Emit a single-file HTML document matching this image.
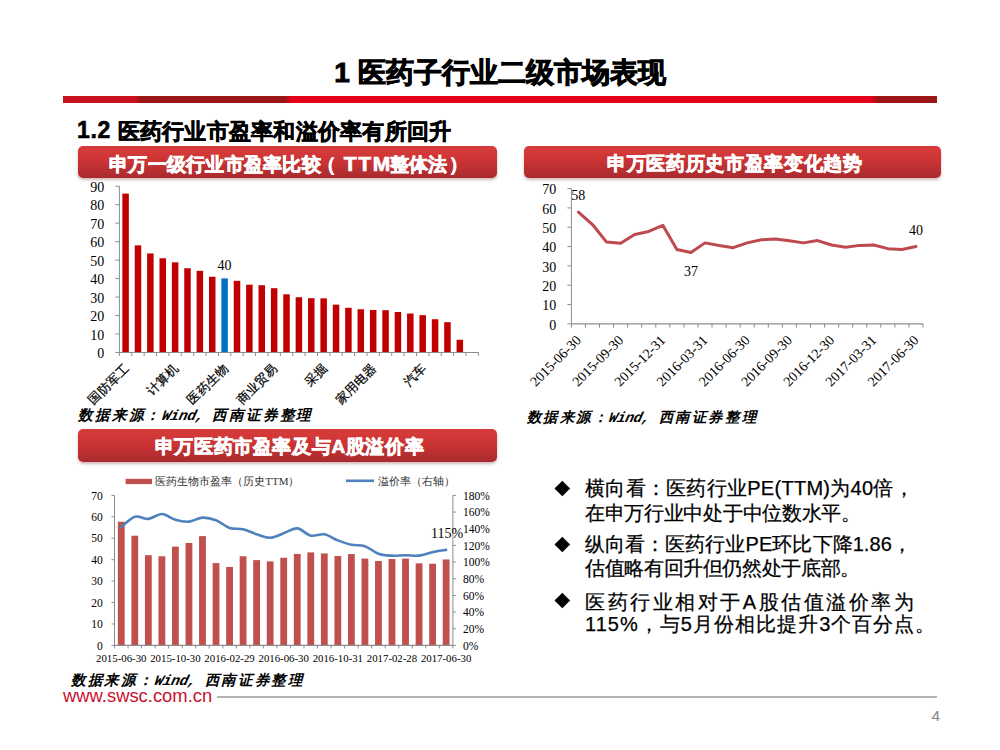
<!DOCTYPE html>
<html><head><meta charset="utf-8">
<style>
html,body{margin:0;padding:0;background:#fff;}
body{width:1000px;height:750px;position:relative;overflow:hidden;font-family:"Liberation Sans",sans-serif;}
.abs{position:absolute;white-space:nowrap;}
.title{left:0;width:1000px;text-align:center;top:54.5px;font-size:28px;font-weight:bold;color:#000;line-height:36px;-webkit-text-stroke:0.9px #000;}
.bar{position:absolute;top:96px;height:7px;left:63px;width:874px;
 background:linear-gradient(90deg,#c8101e 0px,#c8101e 73px,#9a1515 78px,#9a1515 222px,#e5001a 228px,#e5001a 808px,#9b1515 815px,#9b1515 874px);}
.sub{left:77px;top:117px;letter-spacing:0.4px;font-size:22px;font-weight:bold;color:#000;line-height:28px;-webkit-text-stroke:0.6px #000;}
.hdr{position:absolute;height:32px;border-radius:5px;
 background:linear-gradient(180deg,#d63c3a 0%,#cc3434 45%,#a82a2e 100%);
 box-shadow:0 2px 3px rgba(110,20,20,0.3);color:#fff;font-weight:bold;font-size:19.5px;line-height:32px;text-align:center;-webkit-text-stroke:0.7px #fff;}
.src{font-family:"Liberation Mono",monospace;font-weight:bold;color:#000;line-height:18px;transform:skewX(-14deg);transform-origin:0 14px;display:flex;}
.sc{display:inline-block;text-align:center;}
.sa{display:inline-block;text-align:center;font-style:italic;}
svg text{font-family:"Liberation Serif",serif;}
.ax{font-size:14px;fill:#000;}
.axx{font-size:10.8px;fill:#000;}
.ax3{font-size:11.5px;fill:#000;}
.lbl3{font-size:14px;fill:#000;}
.cat{font-size:12.5px;fill:#000;stroke:#000;stroke-width:0.25px;}
.leg{font-size:11px;fill:#333;}
.bul{position:absolute;left:555px;font-size:19px;color:#000;}
.bt{position:absolute;left:585px;font-size:20px;line-height:24px;color:#000;white-space:nowrap;-webkit-text-stroke:0.25px #000;}
.dia{position:absolute;left:557.4px;width:10.6px;height:10.6px;background:#000;transform:rotate(45deg);}
</style></head><body>
<div class="abs title">1 医药子行业二级市场表现</div>
<div class="bar"></div>
<div class="abs sub"><span style="letter-spacing:0.6px;font-size:23px;position:relative;top:-1.5px">1.2 </span><span style="letter-spacing:0.23px">医药行业市盈率和溢价率有所回升</span></div>
<div class="hdr" style="left:78px;top:146px;width:419px;font-size:19px;padding-top:1.5px;box-sizing:border-box;height:32px;text-align:left;padding-left:31px;"><span style="letter-spacing:0.25px">申万一级行业市盈率比较</span><span style="margin-left:-4px">（</span><span style="letter-spacing:1.7px;margin-left:8px;font-size:21px">TTM</span><span style="margin-left:-2.5px;letter-spacing:0.2px">整体法</span><span style="margin-left:2px">）</span></div>
<div class="hdr" style="left:523.5px;top:146px;width:417.5px;font-size:19px;letter-spacing:0.65px;padding-top:2px;padding-left:5px;box-sizing:border-box;height:32px;">申万医药历史市盈率变化趋势</div>
<div class="hdr" style="left:78px;top:429px;width:419px;font-size:19px;letter-spacing:0.65px;padding-top:1.5px;padding-left:4px;box-sizing:border-box;height:32.5px;">申万医药市盈率及与A股溢价率</div>
<svg class="abs" style="left:0;top:0" width="1000" height="750" viewBox="0 0 1000 750">
<line x1="119.4" y1="186.2" x2="119.4" y2="352.5" stroke="#8c8c8c" stroke-width="1"/>
<line x1="115.4" y1="352.5" x2="119.4" y2="352.5" stroke="#8c8c8c" stroke-width="1"/>
<text x="104.3" y="358" class="ax" text-anchor="end">0</text>
<line x1="115.4" y1="334.02" x2="119.4" y2="334.02" stroke="#8c8c8c" stroke-width="1"/>
<text x="104.3" y="339.52" class="ax" text-anchor="end">10</text>
<line x1="115.4" y1="315.54" x2="119.4" y2="315.54" stroke="#8c8c8c" stroke-width="1"/>
<text x="104.3" y="321.04" class="ax" text-anchor="end">20</text>
<line x1="115.4" y1="297.07" x2="119.4" y2="297.07" stroke="#8c8c8c" stroke-width="1"/>
<text x="104.3" y="302.57" class="ax" text-anchor="end">30</text>
<line x1="115.4" y1="278.59" x2="119.4" y2="278.59" stroke="#8c8c8c" stroke-width="1"/>
<text x="104.3" y="284.09" class="ax" text-anchor="end">40</text>
<line x1="115.4" y1="260.11" x2="119.4" y2="260.11" stroke="#8c8c8c" stroke-width="1"/>
<text x="104.3" y="265.61" class="ax" text-anchor="end">50</text>
<line x1="115.4" y1="241.63" x2="119.4" y2="241.63" stroke="#8c8c8c" stroke-width="1"/>
<text x="104.3" y="247.13" class="ax" text-anchor="end">60</text>
<line x1="115.4" y1="223.16" x2="119.4" y2="223.16" stroke="#8c8c8c" stroke-width="1"/>
<text x="104.3" y="228.66" class="ax" text-anchor="end">70</text>
<line x1="115.4" y1="204.68" x2="119.4" y2="204.68" stroke="#8c8c8c" stroke-width="1"/>
<text x="104.3" y="210.18" class="ax" text-anchor="end">80</text>
<line x1="115.4" y1="186.2" x2="119.4" y2="186.2" stroke="#8c8c8c" stroke-width="1"/>
<text x="104.3" y="191.7" class="ax" text-anchor="end">90</text>
<rect x="122.34" y="193.59" width="6.5" height="158.91" fill="#c00000"/>
<rect x="134.72" y="245.33" width="6.5" height="107.17" fill="#c00000"/>
<rect x="147.1" y="253.46" width="6.5" height="99.04" fill="#c00000"/>
<rect x="159.48" y="258.26" width="6.5" height="94.24" fill="#c00000"/>
<rect x="171.86" y="262.33" width="6.5" height="90.17" fill="#c00000"/>
<rect x="184.24" y="268.24" width="6.5" height="84.26" fill="#c00000"/>
<rect x="196.62" y="270.83" width="6.5" height="81.67" fill="#c00000"/>
<rect x="208.99" y="276.74" width="6.5" height="75.76" fill="#c00000"/>
<rect x="221.37" y="278.4" width="6.5" height="74.1" fill="#0070c0"/>
<rect x="233.75" y="280.81" width="6.5" height="71.69" fill="#c00000"/>
<rect x="246.13" y="284.69" width="6.5" height="67.81" fill="#c00000"/>
<rect x="258.51" y="285.24" width="6.5" height="67.26" fill="#c00000"/>
<rect x="270.89" y="288.2" width="6.5" height="64.3" fill="#c00000"/>
<rect x="283.27" y="294.3" width="6.5" height="58.21" fill="#c00000"/>
<rect x="295.65" y="297.25" width="6.5" height="55.25" fill="#c00000"/>
<rect x="308.03" y="298.18" width="6.5" height="54.32" fill="#c00000"/>
<rect x="320.41" y="298.36" width="6.5" height="54.14" fill="#c00000"/>
<rect x="332.79" y="304.64" width="6.5" height="47.86" fill="#c00000"/>
<rect x="345.17" y="307.78" width="6.5" height="44.72" fill="#c00000"/>
<rect x="357.55" y="309.26" width="6.5" height="43.24" fill="#c00000"/>
<rect x="369.93" y="310" width="6.5" height="42.5" fill="#c00000"/>
<rect x="382.31" y="310.19" width="6.5" height="42.31" fill="#c00000"/>
<rect x="394.68" y="312.03" width="6.5" height="40.47" fill="#c00000"/>
<rect x="407.06" y="313.51" width="6.5" height="38.99" fill="#c00000"/>
<rect x="419.44" y="315.17" width="6.5" height="37.33" fill="#c00000"/>
<rect x="431.82" y="319.24" width="6.5" height="33.26" fill="#c00000"/>
<rect x="444.2" y="322.2" width="6.5" height="30.3" fill="#c00000"/>
<rect x="456.58" y="339.75" width="6.5" height="12.75" fill="#c00000"/>
<line x1="119.4" y1="352.5" x2="478.4" y2="352.5" stroke="#8c8c8c" stroke-width="1.2"/>
<line x1="119.4" y1="352.5" x2="119.4" y2="356" stroke="#8c8c8c" stroke-width="1"/>
<line x1="131.78" y1="352.5" x2="131.78" y2="356" stroke="#8c8c8c" stroke-width="1"/>
<line x1="144.16" y1="352.5" x2="144.16" y2="356" stroke="#8c8c8c" stroke-width="1"/>
<line x1="156.54" y1="352.5" x2="156.54" y2="356" stroke="#8c8c8c" stroke-width="1"/>
<line x1="168.92" y1="352.5" x2="168.92" y2="356" stroke="#8c8c8c" stroke-width="1"/>
<line x1="181.3" y1="352.5" x2="181.3" y2="356" stroke="#8c8c8c" stroke-width="1"/>
<line x1="193.68" y1="352.5" x2="193.68" y2="356" stroke="#8c8c8c" stroke-width="1"/>
<line x1="206.06" y1="352.5" x2="206.06" y2="356" stroke="#8c8c8c" stroke-width="1"/>
<line x1="218.43" y1="352.5" x2="218.43" y2="356" stroke="#8c8c8c" stroke-width="1"/>
<line x1="230.81" y1="352.5" x2="230.81" y2="356" stroke="#8c8c8c" stroke-width="1"/>
<line x1="243.19" y1="352.5" x2="243.19" y2="356" stroke="#8c8c8c" stroke-width="1"/>
<line x1="255.57" y1="352.5" x2="255.57" y2="356" stroke="#8c8c8c" stroke-width="1"/>
<line x1="267.95" y1="352.5" x2="267.95" y2="356" stroke="#8c8c8c" stroke-width="1"/>
<line x1="280.33" y1="352.5" x2="280.33" y2="356" stroke="#8c8c8c" stroke-width="1"/>
<line x1="292.71" y1="352.5" x2="292.71" y2="356" stroke="#8c8c8c" stroke-width="1"/>
<line x1="305.09" y1="352.5" x2="305.09" y2="356" stroke="#8c8c8c" stroke-width="1"/>
<line x1="317.47" y1="352.5" x2="317.47" y2="356" stroke="#8c8c8c" stroke-width="1"/>
<line x1="329.85" y1="352.5" x2="329.85" y2="356" stroke="#8c8c8c" stroke-width="1"/>
<line x1="342.23" y1="352.5" x2="342.23" y2="356" stroke="#8c8c8c" stroke-width="1"/>
<line x1="354.61" y1="352.5" x2="354.61" y2="356" stroke="#8c8c8c" stroke-width="1"/>
<line x1="366.99" y1="352.5" x2="366.99" y2="356" stroke="#8c8c8c" stroke-width="1"/>
<line x1="379.37" y1="352.5" x2="379.37" y2="356" stroke="#8c8c8c" stroke-width="1"/>
<line x1="391.74" y1="352.5" x2="391.74" y2="356" stroke="#8c8c8c" stroke-width="1"/>
<line x1="404.12" y1="352.5" x2="404.12" y2="356" stroke="#8c8c8c" stroke-width="1"/>
<line x1="416.5" y1="352.5" x2="416.5" y2="356" stroke="#8c8c8c" stroke-width="1"/>
<line x1="428.88" y1="352.5" x2="428.88" y2="356" stroke="#8c8c8c" stroke-width="1"/>
<line x1="441.26" y1="352.5" x2="441.26" y2="356" stroke="#8c8c8c" stroke-width="1"/>
<line x1="453.64" y1="352.5" x2="453.64" y2="356" stroke="#8c8c8c" stroke-width="1"/>
<line x1="466.02" y1="352.5" x2="466.02" y2="356" stroke="#8c8c8c" stroke-width="1"/>
<line x1="478.4" y1="352.5" x2="478.4" y2="356" stroke="#8c8c8c" stroke-width="1"/>
<text x="224.62" y="270" class="ax" text-anchor="middle">40</text>
<text x="130.09" y="368.5" class="cat" text-anchor="end" transform="rotate(-45 130.09 368.5)">国防军工</text>
<text x="179.61" y="368.5" class="cat" text-anchor="end" transform="rotate(-45 179.61 368.5)">计算机</text>
<text x="229.12" y="368.5" class="cat" text-anchor="end" transform="rotate(-45 229.12 368.5)">医药生物</text>
<text x="278.64" y="368.5" class="cat" text-anchor="end" transform="rotate(-45 278.64 368.5)">商业贸易</text>
<text x="328.16" y="368.5" class="cat" text-anchor="end" transform="rotate(-45 328.16 368.5)">采掘</text>
<text x="377.68" y="368.5" class="cat" text-anchor="end" transform="rotate(-45 377.68 368.5)">家用电器</text>
<text x="427.19" y="368.5" class="cat" text-anchor="end" transform="rotate(-45 427.19 368.5)">汽车</text>
<line x1="571.4" y1="188.6" x2="571.4" y2="323.8" stroke="#8c8c8c" stroke-width="1"/>
<line x1="567.4" y1="323.8" x2="571.4" y2="323.8" stroke="#8c8c8c" stroke-width="1"/>
<text x="556.3" y="329.5" class="ax" text-anchor="end">0</text>
<line x1="567.4" y1="304.49" x2="571.4" y2="304.49" stroke="#8c8c8c" stroke-width="1"/>
<text x="556.3" y="310.19" class="ax" text-anchor="end">10</text>
<line x1="567.4" y1="285.17" x2="571.4" y2="285.17" stroke="#8c8c8c" stroke-width="1"/>
<text x="556.3" y="290.87" class="ax" text-anchor="end">20</text>
<line x1="567.4" y1="265.86" x2="571.4" y2="265.86" stroke="#8c8c8c" stroke-width="1"/>
<text x="556.3" y="271.56" class="ax" text-anchor="end">30</text>
<line x1="567.4" y1="246.54" x2="571.4" y2="246.54" stroke="#8c8c8c" stroke-width="1"/>
<text x="556.3" y="252.24" class="ax" text-anchor="end">40</text>
<line x1="567.4" y1="227.23" x2="571.4" y2="227.23" stroke="#8c8c8c" stroke-width="1"/>
<text x="556.3" y="232.93" class="ax" text-anchor="end">50</text>
<line x1="567.4" y1="207.91" x2="571.4" y2="207.91" stroke="#8c8c8c" stroke-width="1"/>
<text x="556.3" y="213.61" class="ax" text-anchor="end">60</text>
<line x1="567.4" y1="188.6" x2="571.4" y2="188.6" stroke="#8c8c8c" stroke-width="1"/>
<text x="556.3" y="194.3" class="ax" text-anchor="end">70</text>
<line x1="571.4" y1="323.8" x2="923" y2="323.8" stroke="#8c8c8c" stroke-width="1.2"/>
<line x1="571.4" y1="323.8" x2="571.4" y2="327.6" stroke="#8c8c8c" stroke-width="1"/>
<line x1="585.46" y1="323.8" x2="585.46" y2="327.6" stroke="#8c8c8c" stroke-width="1"/>
<line x1="599.53" y1="323.8" x2="599.53" y2="327.6" stroke="#8c8c8c" stroke-width="1"/>
<line x1="613.59" y1="323.8" x2="613.59" y2="327.6" stroke="#8c8c8c" stroke-width="1"/>
<line x1="627.66" y1="323.8" x2="627.66" y2="327.6" stroke="#8c8c8c" stroke-width="1"/>
<line x1="641.72" y1="323.8" x2="641.72" y2="327.6" stroke="#8c8c8c" stroke-width="1"/>
<line x1="655.78" y1="323.8" x2="655.78" y2="327.6" stroke="#8c8c8c" stroke-width="1"/>
<line x1="669.85" y1="323.8" x2="669.85" y2="327.6" stroke="#8c8c8c" stroke-width="1"/>
<line x1="683.91" y1="323.8" x2="683.91" y2="327.6" stroke="#8c8c8c" stroke-width="1"/>
<line x1="697.98" y1="323.8" x2="697.98" y2="327.6" stroke="#8c8c8c" stroke-width="1"/>
<line x1="712.04" y1="323.8" x2="712.04" y2="327.6" stroke="#8c8c8c" stroke-width="1"/>
<line x1="726.1" y1="323.8" x2="726.1" y2="327.6" stroke="#8c8c8c" stroke-width="1"/>
<line x1="740.17" y1="323.8" x2="740.17" y2="327.6" stroke="#8c8c8c" stroke-width="1"/>
<line x1="754.23" y1="323.8" x2="754.23" y2="327.6" stroke="#8c8c8c" stroke-width="1"/>
<line x1="768.3" y1="323.8" x2="768.3" y2="327.6" stroke="#8c8c8c" stroke-width="1"/>
<line x1="782.36" y1="323.8" x2="782.36" y2="327.6" stroke="#8c8c8c" stroke-width="1"/>
<line x1="796.42" y1="323.8" x2="796.42" y2="327.6" stroke="#8c8c8c" stroke-width="1"/>
<line x1="810.49" y1="323.8" x2="810.49" y2="327.6" stroke="#8c8c8c" stroke-width="1"/>
<line x1="824.55" y1="323.8" x2="824.55" y2="327.6" stroke="#8c8c8c" stroke-width="1"/>
<line x1="838.62" y1="323.8" x2="838.62" y2="327.6" stroke="#8c8c8c" stroke-width="1"/>
<line x1="852.68" y1="323.8" x2="852.68" y2="327.6" stroke="#8c8c8c" stroke-width="1"/>
<line x1="866.74" y1="323.8" x2="866.74" y2="327.6" stroke="#8c8c8c" stroke-width="1"/>
<line x1="880.81" y1="323.8" x2="880.81" y2="327.6" stroke="#8c8c8c" stroke-width="1"/>
<line x1="894.87" y1="323.8" x2="894.87" y2="327.6" stroke="#8c8c8c" stroke-width="1"/>
<line x1="908.94" y1="323.8" x2="908.94" y2="327.6" stroke="#8c8c8c" stroke-width="1"/>
<line x1="923" y1="323.8" x2="923" y2="327.6" stroke="#8c8c8c" stroke-width="1"/>
<polyline points="578.43,212.16 592.5,224.52 606.56,242.1 620.62,243.26 634.69,234.57 648.75,231.48 662.82,225.3 676.88,249.44 690.94,252.53 705.01,242.87 719.07,245.58 733.14,247.7 747.2,242.87 761.26,239.78 775.33,239.01 789.39,240.75 803.46,242.87 817.52,240.56 831.58,245 845.65,247.32 859.71,245.38 873.78,245 887.84,248.67 901.9,249.44 915.97,246.54" fill="none" stroke="#be4a4f" stroke-width="3" stroke-linejoin="round" stroke-linecap="round"/>
<text x="571.3" y="199.5" class="ax">58</text>
<text x="684" y="276" class="ax">37</text>
<text x="909" y="234.5" class="ax">40</text>
<text x="581.93" y="341" class="ax" text-anchor="end" transform="rotate(-45 581.93 341)">2015-06-30</text>
<text x="624.12" y="341" class="ax" text-anchor="end" transform="rotate(-45 624.12 341)">2015-09-30</text>
<text x="666.32" y="341" class="ax" text-anchor="end" transform="rotate(-45 666.32 341)">2015-12-31</text>
<text x="708.51" y="341" class="ax" text-anchor="end" transform="rotate(-45 708.51 341)">2016-03-31</text>
<text x="750.7" y="341" class="ax" text-anchor="end" transform="rotate(-45 750.7 341)">2016-06-30</text>
<text x="792.89" y="341" class="ax" text-anchor="end" transform="rotate(-45 792.89 341)">2016-09-30</text>
<text x="835.08" y="341" class="ax" text-anchor="end" transform="rotate(-45 835.08 341)">2016-12-30</text>
<text x="877.28" y="341" class="ax" text-anchor="end" transform="rotate(-45 877.28 341)">2017-03-31</text>
<text x="919.47" y="341" class="ax" text-anchor="end" transform="rotate(-45 919.47 341)">2017-06-30</text>
<line x1="114.5" y1="495.4" x2="114.5" y2="645.4" stroke="#8c8c8c" stroke-width="1"/>
<line x1="452.9" y1="495.4" x2="452.9" y2="645.4" stroke="#8c8c8c" stroke-width="1"/>
<line x1="111.5" y1="645.4" x2="114.5" y2="645.4" stroke="#8c8c8c" stroke-width="1"/>
<text x="102.7" y="649.6" class="ax3" text-anchor="end">0</text>
<line x1="111.5" y1="623.97" x2="114.5" y2="623.97" stroke="#8c8c8c" stroke-width="1"/>
<text x="102.7" y="628.17" class="ax3" text-anchor="end">10</text>
<line x1="111.5" y1="602.54" x2="114.5" y2="602.54" stroke="#8c8c8c" stroke-width="1"/>
<text x="102.7" y="606.74" class="ax3" text-anchor="end">20</text>
<line x1="111.5" y1="581.11" x2="114.5" y2="581.11" stroke="#8c8c8c" stroke-width="1"/>
<text x="102.7" y="585.31" class="ax3" text-anchor="end">30</text>
<line x1="111.5" y1="559.69" x2="114.5" y2="559.69" stroke="#8c8c8c" stroke-width="1"/>
<text x="102.7" y="563.89" class="ax3" text-anchor="end">40</text>
<line x1="111.5" y1="538.26" x2="114.5" y2="538.26" stroke="#8c8c8c" stroke-width="1"/>
<text x="102.7" y="542.46" class="ax3" text-anchor="end">50</text>
<line x1="111.5" y1="516.83" x2="114.5" y2="516.83" stroke="#8c8c8c" stroke-width="1"/>
<text x="102.7" y="521.03" class="ax3" text-anchor="end">60</text>
<line x1="111.5" y1="495.4" x2="114.5" y2="495.4" stroke="#8c8c8c" stroke-width="1"/>
<text x="102.7" y="499.6" class="ax3" text-anchor="end">70</text>
<line x1="452.9" y1="645.4" x2="455.9" y2="645.4" stroke="#8c8c8c" stroke-width="1"/>
<text x="463" y="649.6" class="ax3">0%</text>
<line x1="452.9" y1="628.73" x2="455.9" y2="628.73" stroke="#8c8c8c" stroke-width="1"/>
<text x="463" y="632.93" class="ax3">20%</text>
<line x1="452.9" y1="612.07" x2="455.9" y2="612.07" stroke="#8c8c8c" stroke-width="1"/>
<text x="463" y="616.27" class="ax3">40%</text>
<line x1="452.9" y1="595.4" x2="455.9" y2="595.4" stroke="#8c8c8c" stroke-width="1"/>
<text x="463" y="599.6" class="ax3">60%</text>
<line x1="452.9" y1="578.73" x2="455.9" y2="578.73" stroke="#8c8c8c" stroke-width="1"/>
<text x="463" y="582.93" class="ax3">80%</text>
<line x1="452.9" y1="562.07" x2="455.9" y2="562.07" stroke="#8c8c8c" stroke-width="1"/>
<text x="463" y="566.27" class="ax3">100%</text>
<line x1="452.9" y1="545.4" x2="455.9" y2="545.4" stroke="#8c8c8c" stroke-width="1"/>
<text x="463" y="549.6" class="ax3">120%</text>
<line x1="452.9" y1="528.73" x2="455.9" y2="528.73" stroke="#8c8c8c" stroke-width="1"/>
<text x="463" y="532.93" class="ax3">140%</text>
<line x1="452.9" y1="512.07" x2="455.9" y2="512.07" stroke="#8c8c8c" stroke-width="1"/>
<text x="463" y="516.27" class="ax3">160%</text>
<line x1="452.9" y1="495.4" x2="455.9" y2="495.4" stroke="#8c8c8c" stroke-width="1"/>
<text x="463" y="499.6" class="ax3">180%</text>
<rect x="117.87" y="521.76" width="6.8" height="123.64" fill="#c0504d"/>
<rect x="131.4" y="535.69" width="6.8" height="109.71" fill="#c0504d"/>
<rect x="144.94" y="555.19" width="6.8" height="90.21" fill="#c0504d"/>
<rect x="158.48" y="556.26" width="6.8" height="89.14" fill="#c0504d"/>
<rect x="172.01" y="546.61" width="6.8" height="98.79" fill="#c0504d"/>
<rect x="185.55" y="542.97" width="6.8" height="102.43" fill="#c0504d"/>
<rect x="199.08" y="536.11" width="6.8" height="109.29" fill="#c0504d"/>
<rect x="212.62" y="563.11" width="6.8" height="82.29" fill="#c0504d"/>
<rect x="226.16" y="566.97" width="6.8" height="78.43" fill="#c0504d"/>
<rect x="239.69" y="556.26" width="6.8" height="89.14" fill="#c0504d"/>
<rect x="253.23" y="560.11" width="6.8" height="85.29" fill="#c0504d"/>
<rect x="266.76" y="561.4" width="6.8" height="84" fill="#c0504d"/>
<rect x="280.3" y="557.76" width="6.8" height="87.64" fill="#c0504d"/>
<rect x="293.84" y="553.9" width="6.8" height="91.5" fill="#c0504d"/>
<rect x="307.37" y="552.4" width="6.8" height="93" fill="#c0504d"/>
<rect x="320.91" y="553.47" width="6.8" height="91.93" fill="#c0504d"/>
<rect x="334.44" y="556.04" width="6.8" height="89.36" fill="#c0504d"/>
<rect x="347.98" y="554.11" width="6.8" height="91.29" fill="#c0504d"/>
<rect x="361.52" y="558.61" width="6.8" height="86.79" fill="#c0504d"/>
<rect x="375.05" y="560.97" width="6.8" height="84.43" fill="#c0504d"/>
<rect x="388.59" y="559.04" width="6.8" height="86.36" fill="#c0504d"/>
<rect x="402.12" y="558.61" width="6.8" height="86.79" fill="#c0504d"/>
<rect x="415.66" y="563.33" width="6.8" height="82.07" fill="#c0504d"/>
<rect x="429.2" y="563.76" width="6.8" height="81.64" fill="#c0504d"/>
<rect x="442.73" y="559.47" width="6.8" height="85.93" fill="#c0504d"/>
<line x1="114.5" y1="645.4" x2="452.9" y2="645.4" stroke="#8c8c8c" stroke-width="1.2"/>
<line x1="114.5" y1="645.4" x2="114.5" y2="648.4" stroke="#8c8c8c" stroke-width="1"/>
<line x1="128.04" y1="645.4" x2="128.04" y2="648.4" stroke="#8c8c8c" stroke-width="1"/>
<line x1="141.57" y1="645.4" x2="141.57" y2="648.4" stroke="#8c8c8c" stroke-width="1"/>
<line x1="155.11" y1="645.4" x2="155.11" y2="648.4" stroke="#8c8c8c" stroke-width="1"/>
<line x1="168.64" y1="645.4" x2="168.64" y2="648.4" stroke="#8c8c8c" stroke-width="1"/>
<line x1="182.18" y1="645.4" x2="182.18" y2="648.4" stroke="#8c8c8c" stroke-width="1"/>
<line x1="195.72" y1="645.4" x2="195.72" y2="648.4" stroke="#8c8c8c" stroke-width="1"/>
<line x1="209.25" y1="645.4" x2="209.25" y2="648.4" stroke="#8c8c8c" stroke-width="1"/>
<line x1="222.79" y1="645.4" x2="222.79" y2="648.4" stroke="#8c8c8c" stroke-width="1"/>
<line x1="236.32" y1="645.4" x2="236.32" y2="648.4" stroke="#8c8c8c" stroke-width="1"/>
<line x1="249.86" y1="645.4" x2="249.86" y2="648.4" stroke="#8c8c8c" stroke-width="1"/>
<line x1="263.4" y1="645.4" x2="263.4" y2="648.4" stroke="#8c8c8c" stroke-width="1"/>
<line x1="276.93" y1="645.4" x2="276.93" y2="648.4" stroke="#8c8c8c" stroke-width="1"/>
<line x1="290.47" y1="645.4" x2="290.47" y2="648.4" stroke="#8c8c8c" stroke-width="1"/>
<line x1="304" y1="645.4" x2="304" y2="648.4" stroke="#8c8c8c" stroke-width="1"/>
<line x1="317.54" y1="645.4" x2="317.54" y2="648.4" stroke="#8c8c8c" stroke-width="1"/>
<line x1="331.08" y1="645.4" x2="331.08" y2="648.4" stroke="#8c8c8c" stroke-width="1"/>
<line x1="344.61" y1="645.4" x2="344.61" y2="648.4" stroke="#8c8c8c" stroke-width="1"/>
<line x1="358.15" y1="645.4" x2="358.15" y2="648.4" stroke="#8c8c8c" stroke-width="1"/>
<line x1="371.68" y1="645.4" x2="371.68" y2="648.4" stroke="#8c8c8c" stroke-width="1"/>
<line x1="385.22" y1="645.4" x2="385.22" y2="648.4" stroke="#8c8c8c" stroke-width="1"/>
<line x1="398.76" y1="645.4" x2="398.76" y2="648.4" stroke="#8c8c8c" stroke-width="1"/>
<line x1="412.29" y1="645.4" x2="412.29" y2="648.4" stroke="#8c8c8c" stroke-width="1"/>
<line x1="425.83" y1="645.4" x2="425.83" y2="648.4" stroke="#8c8c8c" stroke-width="1"/>
<line x1="439.36" y1="645.4" x2="439.36" y2="648.4" stroke="#8c8c8c" stroke-width="1"/>
<line x1="452.9" y1="645.4" x2="452.9" y2="648.4" stroke="#8c8c8c" stroke-width="1"/>
<path d="M121.27,527.07 C123.52,525.33 130.29,518.01 134.8,516.65 C139.32,515.29 143.83,519.33 148.34,518.9 C152.85,518.47 157.36,513.91 161.88,514.07 C166.39,514.22 170.9,518.55 175.41,519.82 C179.92,521.08 184.44,522.01 188.95,521.65 C193.46,521.29 197.97,517.89 202.48,517.65 C207,517.41 211.51,518.52 216.02,520.23 C220.53,521.94 225.04,526.4 229.56,527.9 C234.07,529.4 238.58,528.18 243.09,529.23 C247.6,530.29 252.12,532.8 256.63,534.23 C261.14,535.66 265.65,537.97 270.16,537.82 C274.68,537.66 279.19,534.89 283.7,533.32 C288.21,531.75 292.72,528.01 297.24,528.4 C301.75,528.79 306.26,534.66 310.77,535.65 C315.28,536.64 319.8,533.52 324.31,534.32 C328.82,535.11 333.33,538.65 337.84,540.4 C342.36,542.15 346.87,543.86 351.38,544.82 C355.89,545.77 360.4,544.66 364.92,546.15 C369.43,547.64 373.94,552.15 378.45,553.73 C382.96,555.32 387.48,555.4 391.99,555.65 C396.5,555.9 401.01,555.23 405.52,555.23 C410.04,555.23 414.55,556.15 419.06,555.65 C423.57,555.15 428.08,553.19 432.6,552.23 C437.11,551.27 443.88,550.29 446.13,549.9" fill="none" stroke="#4f81bd" stroke-width="2.6" stroke-linecap="round"/>
<text x="431" y="538" class="lbl3">115%</text>
<text x="121.27" y="661.5" class="axx" text-anchor="middle">2015-06-30</text>
<text x="175.41" y="661.5" class="axx" text-anchor="middle">2015-10-30</text>
<text x="229.56" y="661.5" class="axx" text-anchor="middle">2016-02-29</text>
<text x="283.7" y="661.5" class="axx" text-anchor="middle">2016-06-30</text>
<text x="337.84" y="661.5" class="axx" text-anchor="middle">2016-10-31</text>
<text x="391.99" y="661.5" class="axx" text-anchor="middle">2017-02-28</text>
<text x="446.13" y="661.5" class="axx" text-anchor="middle">2017-06-30</text>
<rect x="125.6" y="478.8" width="26.4" height="5.3" fill="#c0504d"/>
<text x="155.2" y="484.8" class="leg">医药生物市盈率（历史<tspan class="legt">TTM</tspan>）</text>
<line x1="346" y1="480.8" x2="374" y2="480.8" stroke="#4f81bd" stroke-width="2.6"/>
<text x="377.7" y="484.8" class="leg">溢价率（右轴）</text>
</svg>
<div class="abs src" style="left:76.5px;top:406.8px;font-size:14.6px"><span class="sc" style="width:16.8px">数</span><span class="sc" style="width:16.8px">据</span><span class="sc" style="width:16.8px">来</span><span class="sc" style="width:16.8px">源</span><span class="sc" style="width:16.8px">：</span><span class="sa" style="width:8.4px">W</span><span class="sa" style="width:8.4px">i</span><span class="sa" style="width:8.4px">n</span><span class="sa" style="width:8.4px">d</span><span class="sa" style="width:8.4px">,</span><span class="sa" style="width:8.4px">&nbsp;</span><span class="sc" style="width:16.8px">西</span><span class="sc" style="width:16.8px">南</span><span class="sc" style="width:16.8px">证</span><span class="sc" style="width:16.8px">券</span><span class="sc" style="width:16.8px">整</span><span class="sc" style="width:16.8px">理</span></div>
<div class="abs src" style="left:525px;top:409px;font-size:14.4px"><span class="sc" style="width:16.55px">数</span><span class="sc" style="width:16.55px">据</span><span class="sc" style="width:16.55px">来</span><span class="sc" style="width:16.55px">源</span><span class="sc" style="width:16.55px">：</span><span class="sa" style="width:8.28px">W</span><span class="sa" style="width:8.28px">i</span><span class="sa" style="width:8.28px">n</span><span class="sa" style="width:8.28px">d</span><span class="sa" style="width:8.28px">,</span><span class="sa" style="width:8.28px">&nbsp;</span><span class="sc" style="width:16.55px">西</span><span class="sc" style="width:16.55px">南</span><span class="sc" style="width:16.55px">证</span><span class="sc" style="width:16.55px">券</span><span class="sc" style="width:16.55px">整</span><span class="sc" style="width:16.55px">理</span></div>
<div class="abs src" style="left:70px;top:672px;font-size:14.5px"><span class="sc" style="width:16.7px">数</span><span class="sc" style="width:16.7px">据</span><span class="sc" style="width:16.7px">来</span><span class="sc" style="width:16.7px">源</span><span class="sc" style="width:16.7px">：</span><span class="sa" style="width:8.35px">W</span><span class="sa" style="width:8.35px">i</span><span class="sa" style="width:8.35px">n</span><span class="sa" style="width:8.35px">d</span><span class="sa" style="width:8.35px">,</span><span class="sa" style="width:8.35px">&nbsp;</span><span class="sc" style="width:16.7px">西</span><span class="sc" style="width:16.7px">南</span><span class="sc" style="width:16.7px">证</span><span class="sc" style="width:16.7px">券</span><span class="sc" style="width:16.7px">整</span><span class="sc" style="width:16.7px">理</span></div>
<div class="bt" style="top:476px;letter-spacing:0.28px">横向看：医药行业PE(TTM)为40倍，</div>
<div class="bt" style="top:500.5px;letter-spacing:-0.31px">在申万行业中处于中位数水平。</div>
<div class="bt" style="top:532px;letter-spacing:0.07px">纵向看：医药行业PE环比下降1.86，</div>
<div class="bt" style="top:555.7px;letter-spacing:-0.36px">估值略有回升但仍然处于底部。</div>
<div class="bt" style="top:589.5px;letter-spacing:2.54px">医药行业相对于A股估值溢价率为</div>
<div class="bt" style="top:612px;letter-spacing:1.03px">115%，与5月份相比提升3个百分点。</div>
<div class="dia" style="top:483.1px"></div>
<div class="dia" style="top:538.8px"></div>
<div class="dia" style="top:594.8px"></div>

<div class="abs" style="left:63px;top:685px;font-size:18.4px;color:#c8102e;line-height:22px;">www.swsc.com.cn</div>
<div class="abs" style="left:217px;top:696px;width:720px;height:1.5px;background:#b4b4b4;"></div>
<div class="abs" style="left:931.5px;top:706px;font-size:15.5px;color:#888;line-height:20px;">4</div>
</body></html>
